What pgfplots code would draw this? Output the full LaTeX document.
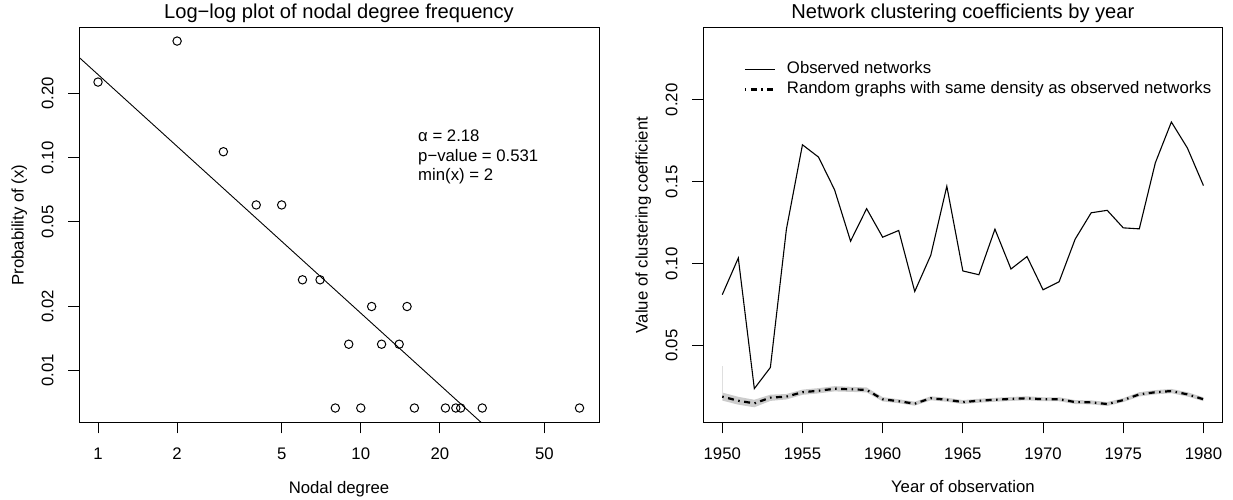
\documentclass[border=0pt]{standalone}
\usepackage{fontspec}
\setmainfont{Liberation Sans}
\usepackage{pgfplots}
\usepackage{pgfplotstable}
\pgfplotsset{compat=1.18}

% degree distribution (degree, share of nodes)
\pgfplotstableread{
deg  p
1    0.2267
2    0.3533
3    0.1067
4    0.0600
5    0.0600
6    0.0267
7    0.0267
8    0.00667
9    0.0133
10   0.00667
11   0.0200
12   0.0133
14   0.0133
15   0.0200
16   0.00667
21   0.00667
23   0.00667
24   0.00667
29   0.00667
68   0.00667
}\degtab

% clustering by year: observed, random graphs mean
\pgfplotstableread{
year obs    rnd
1950 0.0811 0.0189
1951 0.1035 0.0164
1952 0.0238 0.0148
1953 0.0367 0.0183
1954 0.1211 0.0189
1955 0.1726 0.0216
1956 0.1651 0.0225
1957 0.1452 0.0237
1958 0.1138 0.0234
1959 0.1336 0.0230
1960 0.1162 0.0173
1961 0.1203 0.0161
1962 0.0831 0.0146
1963 0.1052 0.0179
1964 0.1473 0.0170
1965 0.0956 0.0156
1966 0.0933 0.0164
1967 0.1211 0.0170
1968 0.0968 0.0175
1969 0.1044 0.0179
1970 0.0841 0.0173
1971 0.0890 0.0173
1972 0.1150 0.0156
1973 0.1311 0.0154
1974 0.1326 0.0144
1975 0.1219 0.0168
1976 0.1213 0.0203
1977 0.1616 0.0216
1978 0.1865 0.0223
1979 0.1706 0.0203
1980 0.1477 0.0173
}\cctab

% band around the random graphs: upper edge forward, lower edge back
\pgfplotstableread{
year v
1950 0.0214
1951 0.0188
1952 0.0170
1953 0.0201
1954 0.0205
1955 0.0232
1956 0.0241
1957 0.0253
1958 0.0249
1959 0.0245
1960 0.0186
1961 0.0173
1962 0.0158
1963 0.0191
1964 0.0182
1965 0.0168
1966 0.0176
1967 0.0182
1968 0.0187
1969 0.0191
1970 0.0185
1971 0.0185
1972 0.0168
1973 0.0166
1974 0.0156
1975 0.0180
1976 0.0216
1977 0.0229
1978 0.0236
1979 0.0216
1980 0.0185
1980 0.0161
1979 0.0190
1978 0.0210
1977 0.0203
1976 0.0190
1975 0.0156
1974 0.0132
1973 0.0142
1972 0.0144
1971 0.0161
1970 0.0161
1969 0.0167
1968 0.0163
1967 0.0158
1966 0.0152
1965 0.0144
1964 0.0158
1963 0.0167
1962 0.0134
1961 0.0149
1960 0.0160
1959 0.0215
1958 0.0218
1957 0.0221
1956 0.0209
1955 0.0200
1954 0.0172
1953 0.0163
1952 0.0124
1951 0.0140
1950 0.0165
}\bandtab

\pgfplotsset{
  rbase/.style={
    scale only axis,
    font=\fontsize{16.8}{20}\selectfont,
    axis line style={line width=1bp},
    tick align=outside,
    tick pos=left,
    major tick length=10.7bp,
    tick style={black, line width=1bp},
    xminorticks=false, yminorticks=false,
    xticklabel style={inner sep=0pt, anchor=north, yshift=-14.1bp},
    yticklabel style={xshift=-14.5bp, rotate=90, anchor=south, inner sep=0pt},
    title style={font=\fontsize{20.2}{24}\selectfont, at={(axis description cs:0.5,1)}, anchor=base, yshift=2.7bp},
    xlabel style={at={(axis description cs:0.5,-0.1778)}, anchor=base},
    ylabel style={at={(axis description cs:-0.1067,0.5)}, anchor=base},
  }
}

\begin{document}
\begin{tikzpicture}
\useasboundingbox (0,0) rectangle (1233bp,500bp);

\begin{axis}[rbase,
  at={(79bp,77.3bp)}, anchor=south west,
  width=520bp, height=395.4bp,
  xmode=log, ymode=log,
  xmin=0.8465, xmax=80.66, ymin=0.00569, ymax=0.41,
  xtick={1,2,5,10,20,50}, xticklabels={1,2,5,10,20,50},
  ytick={0.01,0.02,0.05,0.1,0.2}, yticklabels={0.01,0.02,0.05,0.10,0.20},
  title={Log−log plot of nodal degree frequency},
  xlabel={Nodal degree},
  ylabel={Probability of (x)},
]
\addplot[only marks, mark=o, mark size=4.2bp, mark options={line width=1bp}] table[x=deg, y=p] {\degtab};
\addplot[black, line width=0.9bp] coordinates {(0.8,0.3158) (40,0.003936)};
\node[anchor=base west, inner sep=0pt] at (rel axis cs:0.652,0.710) {α = 2.18};
\node[anchor=base west, inner sep=0pt] at (rel axis cs:0.652,0.661) {p−value = 0.531};
\node[anchor=base west, inner sep=0pt] at (rel axis cs:0.652,0.612) {min(x) = 2};
\end{axis}

\begin{axis}[rbase,
  at={(703bp,77.3bp)}, anchor=south west,
  width=519.7bp, height=395.4bp,
  xmin=1948.8, xmax=1981.2, ymin=0.003, ymax=0.2443,
  xtick={1950,1955,1960,1965,1970,1975,1980}, xticklabels={1950,1955,1960,1965,1970,1975,1980},
  ytick={0.05,0.1,0.15,0.2}, yticklabels={0.05,0.10,0.15,0.20},
  title={Network clustering coefficients by year},
  xlabel={Year of observation},
  ylabel={Value of clustering coefficient},
  legend style={draw=none, fill=none, inner sep=0pt, at={(axis description cs:0.0781,0.914)}, anchor=north west,
    nodes={inner sep=0pt, anchor=base west}, column sep=11bp, row sep=6.7bp},
  legend cell align=left,
  legend image code/.code={\draw[#1] (0bp,4.4bp) -- (30bp,4.4bp);},
]
\addplot[fill=gray!40, draw=none, forget plot] table[x=year, y=v] {\bandtab} -- cycle;
\addplot[gray!25, line width=0.8bp, forget plot] coordinates {(1950,0.0214) (1950,0.0373)};
\addplot[black, line width=1.1bp] table[x=year, y=obs] {\cctab};
\addplot[black, line width=2.2bp, dash pattern=on 1.5bp off 4.5bp on 6bp off 4.5bp] table[x=year, y=rnd] {\cctab};
\legend{Observed networks, Random graphs with same density as observed networks}
\end{axis}
\end{tikzpicture}
\end{document}
